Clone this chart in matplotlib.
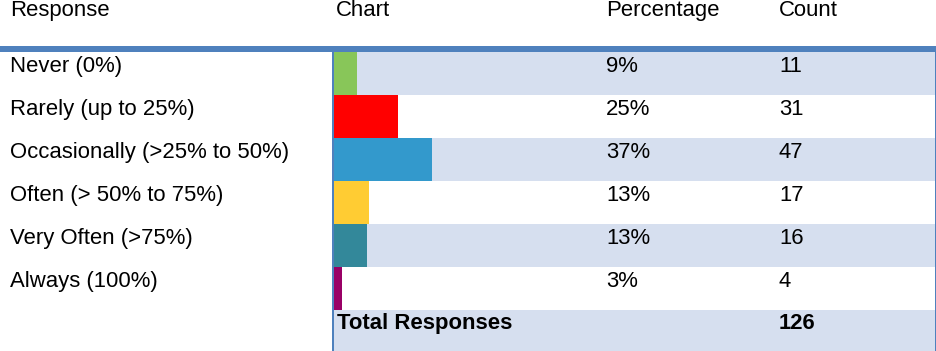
import matplotlib
matplotlib.use("Agg")
import matplotlib.pyplot as plt
from matplotlib.patches import Rectangle

# ---- data ----
responses = ["Never (0%)", "Rarely (up to 25%)", "Occasionally (>25% to 50%)",
             "Often (> 50% to 75%)", "Very Often (>75%)", "Always (100%)"]
percent_labels = ["9%", "25%", "37%", "13%", "13%", "3%"]
counts = [11, 31, 47, 17, 16, 4]
total_label = "Total Responses"
total_count = 126
headers = ["Response", "Chart", "Percentage", "Count"]
bar_colors = ["#88C659", "#FF0000", "#3399CC", "#FFCC33", "#33889A", "#990066"]

W, H = 937, 351
FS = 15.9
FONT = "Liberation Sans"
LINE_BLUE = "#4F81BD"
SHADE = "#D6DFEF"

fig = plt.figure(figsize=(W / 100, H / 100), dpi=100)
ax = fig.add_axes([0, 0, 1, 1])
ax.set_xlim(0, W)
ax.set_ylim(H, 0)
ax.axis("off")

row_top0 = 52
row_h = 43
n = len(responses)
col_x = [10.5, 336, 606, 779]

# shading rows (alternate) + total row
for i in range(n + 1):
    top = row_top0 + i * row_h
    bottom = top + row_h if i < n else H
    if i % 2 == 0:
        ax.add_patch(Rectangle((334, top), 935 - 334, bottom - top,
                               facecolor=SHADE, edgecolor="none", zorder=1))

# header line and vertical lines
ax.add_patch(Rectangle((0, 46), W, 6, facecolor=LINE_BLUE, edgecolor="none", zorder=3))
ax.add_patch(Rectangle((332, 52), 2, H - 52, facecolor=LINE_BLUE, edgecolor="none", zorder=3))
ax.add_patch(Rectangle((935, 52), 2, H - 52, facecolor=LINE_BLUE, edgecolor="none", zorder=3))

# headers
for x, h in zip(col_x, headers):
    ax.text(x, 16, h, fontsize=FS, family=FONT, va="baseline", ha="left", zorder=4)

# rows text
for i in range(n):
    base = row_top0 + i * row_h + 20
    ax.text(col_x[0], base, responses[i], fontsize=FS, family=FONT, va="baseline", zorder=4)
    ax.text(col_x[2], base, percent_labels[i], fontsize=FS, family=FONT, va="baseline", zorder=4)
    ax.text(col_x[3], base, str(counts[i]), fontsize=FS, family=FONT, va="baseline", zorder=4)

tb = row_top0 + n * row_h + 19
ax.text(337, tb, total_label, fontsize=FS, family=FONT, fontweight="bold", va="baseline", zorder=4)
ax.text(col_x[3], tb, str(total_count), fontsize=FS, family=FONT, fontweight="bold", va="baseline", zorder=4)

# bar axes aligned with chart column
x0, x1 = 334, 935
y_top, y_bot = row_top0, row_top0 + n * row_h
bax = fig.add_axes([x0 / W, (H - y_bot) / H, (x1 - x0) / W, (y_bot - y_top) / H])
bax.patch.set_alpha(0)
bax.barh(range(n), counts, height=1.0, color=bar_colors, align="center", zorder=2)
bax.set_ylim(n - 0.5, -0.5)
bax.set_xlim(0, (x1 - x0) / 2.08)
bax.axis("off")

fig.savefig("out.png", dpi=100)
